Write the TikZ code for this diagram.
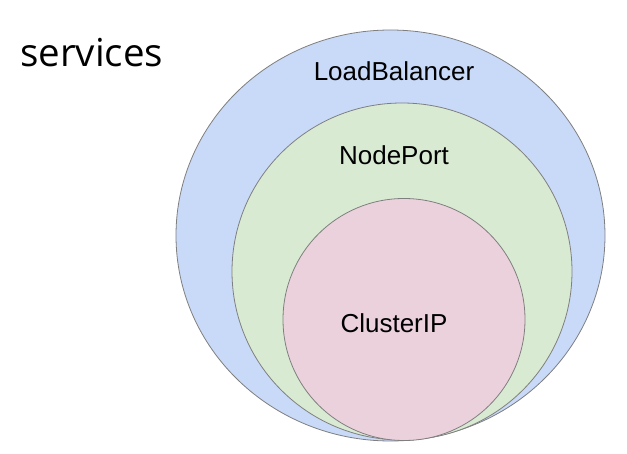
\documentclass[tikz,border=0pt]{standalone}
\usepackage{fontspec}
\setmainfont{Liberation Sans}
\newfontfamily\titlefont{Open Sans}
\definecolor{lbblue}{HTML}{C9DAF8}
\definecolor{npgreen}{HTML}{D9EAD3}
\definecolor{cipink}{HTML}{EAD1DC}
\definecolor{ringline}{HTML}{7F7F7F}
\begin{document}
\begin{tikzpicture}[x=1pt,y=-1pt,
  ring/.style={draw=ringline,line width=0.8pt},
  lbl/.style={font=\fontsize{26}{30}\selectfont,anchor=base,inner sep=0pt}]
  \useasboundingbox (0,0) rectangle (627,454);
  % nested service types, outer to inner
  \foreach \cx/\cy/\rx/\ry/\col in
    {390.5/235.5/214.5/205.5/lbblue, 402/271.5/170/168.5/npgreen, 404/319.5/121/121/cipink}
    \draw[ring,fill=\col] (\cx,\cy) ellipse [x radius=\rx pt, y radius=\ry pt];
  \node[anchor=base west,inner sep=0pt,font=\titlefont\fontsize{38.5}{42}\selectfont]
    (title) at (20,67) {services};
  \node[lbl] (lb) at (394,81) {LoadBalancer};
  \node[lbl] (np) at (394,165) {NodePort};
  \node[lbl] (cip) at (394,333) {ClusterIP};
\end{tikzpicture}
\end{document}
